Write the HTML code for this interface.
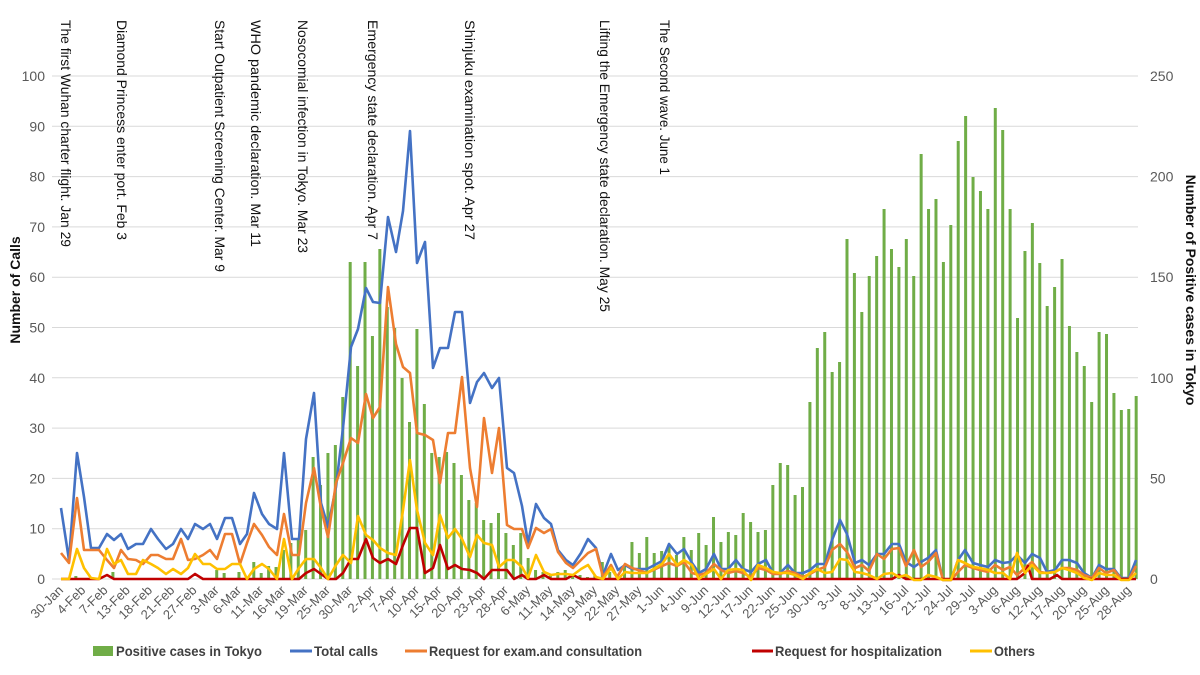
<!DOCTYPE html>
<html><head><meta charset="utf-8"><style>
html,body{margin:0;padding:0;background:#fff;width:1200px;height:675px;overflow:hidden}
svg{display:block;font-family:"Liberation Sans",sans-serif}
</style></head><body>
<svg id="c" width="1200" height="675" viewBox="0 0 1200 675" xmlns="http://www.w3.org/2000/svg">
<g id="grid" stroke="#d9d9d9" stroke-width="1"></g>
<g id="bars" fill="#70ad47"></g>
<g fill="none" stroke-width="2.6" stroke-linejoin="round">
<polyline stroke="#4472c4" points="61,508 69,560 77,453 84,497 91,548 99,548 107,534 114,540 121,534 128,549 136,544 143,544 151,529 158,539 166,549 173,544 181,529 188,539 195,524 203,529 210,524 217,539 225,518 232,518 240,544 247,534 254,493 262,514 269,524 277,529 284,453 292,539 299,539 306,439 314,393 321,503 328,527 336,487 343,428 351,347 358,329 366,288 373,302 380,303 388,217 396,252 403,211 410,131 417,263 425,242 433,368 440,348 448,348 455,312 462,312 470,403 477,382 484,373 492,388 499,378 507,468 514,473 522,506 528,543 536,504 544,518 551,524 558,550 566,560 573,565 581,553 588,539 596,548 603,575 611,554 618,570 625,565 632,569 647,569 662,561 669,544 677,554 684,549 692,563 699,573 706,569 714,554 721,569 728,569 736,560 743,569 751,572 758,564 766,560 773,573 780,573 788,565 795,573 803,573 810,570 817,564 825,564 832,540 840,520 847,534 855,563 862,560 869,565 877,554 884,554 892,544 899,544 906,562 914,567 921,562 928,558 936,550 943,580 951,580 958,560 965,550 973,563 980,565 988,567 995,560 1003,563 1010,562 1017,555 1025,563 1032,554 1040,558 1047,572 1055,570 1062,560 1069,560 1077,563 1084,573 1092,578 1099,565 1106,569 1114,569 1121,578 1129,578 1136,560"/>
<polyline stroke="#ed7d31" points="61,553 69,563 77,498 84,550 91,550 99,550 107,560 114,568 121,550 128,559 136,560 143,564 151,555 158,555 166,559 173,559 181,539 188,560 195,559 203,555 210,550 217,559 225,534 232,534 240,564 247,543 254,524 262,535 269,547 277,555 284,514 292,555 299,555 306,503 314,468 321,508 328,537 336,483 343,463 351,438 358,443 366,394 373,418 380,407 388,287 396,344 403,367 410,373 417,433 425,435 433,440 440,483 448,433 455,433 462,377 470,468 477,507 484,418 492,473 499,428 507,525 514,529 522,529 528,548 536,528 544,533 551,529 558,552 566,563 573,568 581,560 588,553 596,549 603,577 611,565 617,577 625,564 632,568 647,573 662,566 669,563 677,566 684,562 692,573 699,575 706,573 714,564 721,570 728,573 736,571 743,573 751,577 758,568 766,570 773,574 780,574 788,571 795,573 803,577 810,574 817,570 825,567 832,550 840,544 847,552 855,568 862,565 869,571 877,554 884,559 892,549 899,548 906,566 914,550 921,567 928,562 936,553 943,580 951,580 958,572 965,565 973,568 980,570 988,572 995,565 1003,570 1010,567 1017,575 1025,568 1032,562 1040,572 1047,573 1055,572 1062,568 1069,568 1077,570 1084,575 1092,578 1099,568 1106,573 1114,570 1121,579 1129,579 1136,566"/>
<polyline stroke="#c00000" points="61,579 99,579 107,575 114,579 188,579 195,574 203,579 299,579 306,573 314,569 321,574 328,579 336,579 343,573 351,559 358,559 366,539 373,558 380,563 388,559 396,564 403,545 410,528 417,528 425,573 433,568 440,545 448,569 455,565 462,569 470,570 477,573 484,579 492,570 499,570 507,570 514,579 522,575 528,579 536,579 544,575 551,579 566,579 573,575 581,579 892,579 899,575 906,579 1017,579 1025,573 1028,566 1032,579 1050,579 1057,575 1062,579 1136,579"/>
<polyline stroke="#ffc000" points="61,579 69,579 77,549 84,568 91,578 99,579 107,549 114,564 121,560 128,574 136,574 143,560 151,564 158,568 166,574 173,569 181,574 188,568 195,554 203,564 210,564 217,569 225,569 232,564 240,564 247,579 254,569 262,564 269,569 277,579 284,539 292,579 299,568 306,559 314,559 321,568 328,579 336,565 343,555 351,563 358,516 366,535 373,540 380,548 388,553 396,555 403,510 410,460 417,510 425,543 433,555 440,515 448,538 455,529 462,539 470,557 477,535 484,543 492,545 499,567 507,560 514,560 522,567 528,578 536,555 544,572 551,575 558,574 566,574 573,575 581,569 588,565 596,577 603,579 611,568 618,579 625,572 632,573 647,573 662,564 669,554 677,565 684,560 692,565 699,579 706,574 714,569 721,579 728,570 736,569 743,570 751,580 758,565 766,568 773,572 780,573 788,573 795,575 803,579 810,573 817,569 825,573 832,572 840,559 847,560 855,572 862,573 869,575 877,579 884,574 892,573 899,577 906,575 914,580 921,580 928,575 936,577 943,580 951,580 958,560 965,563 973,567 980,568 988,570 995,573 1003,573 1010,579 1017,553 1025,573 1032,565 1040,573 1047,573 1055,572 1062,568 1069,570 1077,573 1084,578 1092,580 1099,573 1106,575 1114,575 1121,580 1129,580 1136,573"/>
</g>
<g id="ticks" font-size="14" fill="#595959"></g>
<g id="xl" font-size="13" fill="#595959"></g>
<g id="ann" font-size="14" fill="#111"></g>
<text transform="translate(20,290) rotate(-90)" text-anchor="middle" font-size="14" font-weight="bold" fill="#111">Number of  Calls</text>
<text transform="translate(1186,290) rotate(90)" text-anchor="middle" font-size="14" font-weight="bold" fill="#111">Number of  Positive cases in Tokyo</text>
<g font-size="14" font-weight="bold" fill="#404040">
<rect x="93" y="646" width="20" height="10" fill="#70ad47"/>
<text x="116" y="656" textLength="146" lengthAdjust="spacingAndGlyphs">Positive cases in Tokyo</text>
<line x1="290" y1="651" x2="312" y2="651" stroke="#4472c4" stroke-width="3"/>
<text x="314" y="656" textLength="64" lengthAdjust="spacingAndGlyphs">Total calls</text>
<line x1="405" y1="651" x2="427" y2="651" stroke="#ed7d31" stroke-width="3"/>
<text x="429" y="656" textLength="213" lengthAdjust="spacingAndGlyphs">Request for exam.and consultation</text>
<line x1="752" y1="651" x2="773" y2="651" stroke="#c00000" stroke-width="3"/>
<text x="775" y="656" textLength="167" lengthAdjust="spacingAndGlyphs">Request for hospitalization</text>
<line x1="970" y1="651" x2="992" y2="651" stroke="#ffc000" stroke-width="3"/>
<text x="994" y="656" textLength="41" lengthAdjust="spacingAndGlyphs">Others</text>
</g>
</svg>
<script>
var NS="http://www.w3.org/2000/svg";
function el(p,t,a,txt){var e=document.createElementNS(NS,t);for(var k in a)e.setAttribute(k,a[k]);if(txt!=null)e.textContent=txt;p.appendChild(e);return e;}
var g=document.getElementById('grid'),tk=document.getElementById('ticks');
for(var i=0;i<=10;i++){var y=579-i*50.3;el(g,'line',{x1:52,x2:1138,y1:y,y2:y});
el(tk,'text',{x:45,y:y+5,'text-anchor':'end'},String(i*10));}
for(var i=0;i<=5;i++){var y=579-i*100.6;el(tk,'text',{x:1150,y:y+5},String(i*50));}
var b=[];for(var i=0;i<146;i++)b[i]=579;
b[2]=576;b[7]=572;
var m={21:570,22:573,24:572,26:562,27:573,28:566,29:567,30:550,31:543,32:540,33:530,34:457,35:485,36:453,37:445,38:397,39:262,40:366,41:262,42:336,43:249,44:307,45:328,46:378,47:422,48:329,49:404,50:453,51:457,52:452,53:463,54:475,55:500,56:503,57:520,58:523,59:513,60:533,61:545,62:533,63:558,64:570,65:572,66:575,67:572,68:570,69:574,70:575,71:577,72:575,73:562,74:572,75:575,76:566,77:542,78:553,79:537,80:553,81:551,82:545,83:555,84:537,85:550,86:533,87:545,88:517,89:542,90:532,91:535,92:513,93:522,94:532,95:530,96:485,97:463,98:465,99:495,100:487,101:402,102:348,103:332,104:372,105:362,106:239,107:273,108:312,109:276,110:256,111:209,112:249,113:267,114:239,115:276,116:154,117:209,118:199,119:262,120:225,121:141,122:116,123:177,124:191,125:209,126:108,127:130,128:209,129:318,130:251,131:223,132:263,133:306,134:287,135:259,136:326,137:352,138:366,139:402,140:332,141:334,142:393,143:410,144:409,145:396};
for(var k in m)b[k]=m[k];
var bg=document.getElementById('bars');
for(var i=0;i<146;i++){if(b[i]<579){var x=61+i*7.415;el(bg,'rect',{x:x-1.5,y:b[i],width:3,height:579-b[i]});}}
var L="30-Jan,4-Feb,7-Feb,13-Feb,18-Feb,21-Feb,27-Feb,3-Mar,6-Mar,11-Mar,16-Mar,19-Mar,25-Mar,30-Mar,2-Apr,7-Apr,10-Apr,15-Apr,20-Apr,23-Apr,28-Apr,6-May,11-May,14-May,19-May,22-May,27-May,1-Jun,4-Jun,9-Jun,12-Jun,17-Jun,22-Jun,25-Jun,30-Jun,3-Jul,8-Jul,13-Jul,16-Jul,21-Jul,24-Jul,29-Jul,3-Aug,6-Aug,12-Aug,17-Aug,20-Aug,25-Aug,28-Aug".split(",");
var xl=document.getElementById('xl');
for(var i=0;i<L.length;i++){var x=61+3*i*7.415;el(xl,'text',{transform:'translate('+(x+3)+',591) rotate(-45)','text-anchor':'end'},L[i]);}
var A=[[66,"The first Wuhan charter flight.  Jan 29",227],[122,"Diamond Princess enter port. Feb  3",220],[220,"Start Outpatient Screening Center. Mar  9",252],[256,"WHO pandemic declaration.  Mar  11",227],[303,"Nosocomial infection in Tokyo. Mar 23",233],[373,"Emergency state declaration. Apr  7",220],[470,"Shinjuku examination spot. Apr  27",220],[605,"Lifting the Emergency state declaration. May 25",292],[665,"The Second wave. June 1",155]];
var an=document.getElementById('ann');
A.forEach(function(a){el(an,'text',{transform:'translate('+(a[0]-5)+',20) rotate(90)',textLength:a[2],lengthAdjust:'spacingAndGlyphs'},a[1]);});
</script>
</body></html>
